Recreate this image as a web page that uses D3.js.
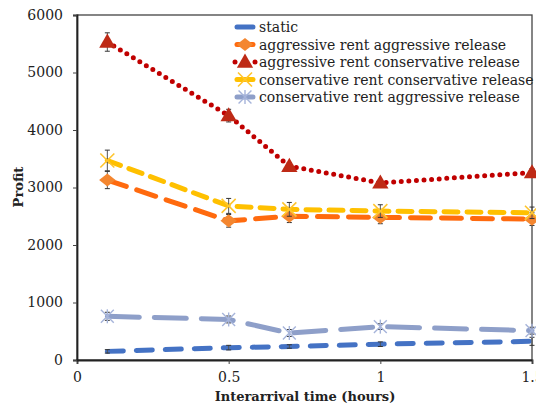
<!DOCTYPE html>
<html>
<head>
<meta charset="utf-8">
<script src="https://cdn.jsdelivr.net/npm/d3@7"></script>
<style>
  html, body { margin: 0; padding: 0; background: #fff; }
  svg { display: block; }
  text { font-family: "DejaVu Serif", "Liberation Serif", serif; fill: #222; }
</style>
</head>
<body>
<svg id="chart" width="536" height="410"></svg>
<script>
// Interarrival times (hours)
const interarrival = [0.1, 0.5, 0.7, 1.0, 1.5];

const seriesNames = [
  "static",
  "aggressive rent aggressive release",
  "aggressive rent conservative release",
  "conservative rent conservative release",
  "conservative rent aggressive release"
];

// Mean profit per series
const staticProfit = [150, 215, 235, 275, 325];
const aggAggProfit = [3130, 2420, 2500, 2480, 2450];
const aggConsProfit = [5530, 4250, 3370, 3080, 3260];
const consConsProfit = [3470, 2680, 2620, 2590, 2560];
const consAggProfit = [760, 705, 470, 580, 510];

// Error bar half-widths
const staticErr = [30, 40, 30, 40, 70];
const aggAggErr = [150, 110, 110, 110, 110];
const aggConsErr = [160, 110, 60, 50, 70];
const consConsErr = [180, 130, 120, 110, 100];
const consAggErr = [70, 60, 60, 50, 60];

const xTicks = [0, 0.5, 1, 1.5];
const yTicks = [0, 1000, 2000, 3000, 4000, 5000, 6000];

const styles = [
  { color: "#4472C4", width: 5, dash: "16,13", cap: "round", marker: "none" },
  { color: "#FF6A0E", width: 5, dash: "20,11", cap: "round", marker: "diamond", mcolor: "#F4862F" },
  { color: "#C00000", width: 5, dash: "0,7.6", cap: "round", marker: "triangle", mcolor: "#BE2A16" },
  { color: "#FFC000", width: 5, dash: "14,9", cap: "round", marker: "x", mcolor: "#FFC52E" },
  { color: "#8E9FC9", width: 5, dash: "32,15", cap: "round", marker: "asterisk", mcolor: "#A6B4DA" }
];

const values = [staticProfit, aggAggProfit, aggConsProfit, consConsProfit, consAggProfit];
const errors = [staticErr, aggAggErr, aggConsErr, consConsErr, consAggErr];

const svg = d3.select("#chart");
const m = { left: 77, top: 15, right: 532, bottom: 360 };

const x = d3.scaleLinear().domain([0, 1.5]).range([m.left, m.right]);
const y = d3.scaleLinear().domain([0, 6000]).range([m.bottom, m.top]);

// frame
svg.append("rect")
  .attr("x", m.left).attr("y", m.top)
  .attr("width", m.right - m.left).attr("height", m.bottom - m.top)
  .attr("fill", "none").attr("stroke", "#444").attr("stroke-width", 1.3);

// axes
const xAxis = svg.append("g")
  .attr("transform", `translate(0,${m.bottom})`)
  .call(d3.axisBottom(x).tickValues(xTicks).tickFormat(d3.format("")).tickSize(4).tickPadding(8));
const yAxis = svg.append("g")
  .attr("transform", `translate(${m.left},0)`)
  .call(d3.axisLeft(y).tickValues(yTicks).tickFormat(d3.format("")).tickSize(4).tickPadding(10));
[xAxis, yAxis].forEach(g => {
  g.select(".domain").attr("stroke", "#222").attr("stroke-width", 1.8);
  g.selectAll(".tick line").attr("stroke", "#444");
  g.selectAll("text").style("font-family", "\"DejaVu Serif\", serif").style("font-size", "14px").attr("fill", "#222");
});

// axis titles
svg.append("text")
  .attr("x", 305).attr("y", 401)
  .attr("text-anchor", "middle")
  .style("font-size", "13px").style("font-weight", "bold")
  .text("Interarrival time (hours)");
svg.append("text")
  .attr("transform", "translate(23,187) rotate(-90)")
  .attr("text-anchor", "middle")
  .style("font-size", "13px").style("font-weight", "bold")
  .text("Profit");

function drawMarker(g, type, cx, cy, color) {
  if (type === "diamond") {
    g.append("path").attr("d", d3.symbol(d3.symbolDiamond2, 110)())
      .attr("transform", `translate(${cx},${cy}) scale(1.25,1)`).attr("fill", color);
  } else if (type === "triangle") {
    g.append("path").attr("d", d3.symbol(d3.symbolTriangle, 115)())
      .attr("transform", `translate(${cx},${cy + 1})`).attr("fill", color);
  } else if (type === "x") {
    g.append("path").attr("d", d3.symbol(d3.symbolTimes, 130)())
      .attr("transform", `translate(${cx},${cy})`).attr("fill", "none")
      .attr("stroke", color).attr("stroke-width", 1.6);
  } else if (type === "asterisk") {
    g.append("path").attr("d", d3.symbol(d3.symbolTimes, 110)())
      .attr("transform", `translate(${cx},${cy})`).attr("fill", "none")
      .attr("stroke", color).attr("stroke-width", 1.4);
    g.append("line").attr("x1", cx).attr("x2", cx).attr("y1", cy - 7).attr("y2", cy + 7)
      .attr("stroke", color).attr("stroke-width", 1.4);
  }
}

const line = d3.line().x(d => x(d[0])).y(d => y(d[1]));

values.forEach((vals, i) => {
  const s = styles[i];
  const g = svg.append("g");
  const pts = interarrival.map((t, j) => [t, vals[j]]);
  g.append("path").datum(pts).attr("d", line)
    .attr("fill", "none").attr("stroke", s.color).attr("stroke-width", s.width)
    .attr("stroke-dasharray", s.dash).attr("stroke-linecap", s.cap);
  // error bars
  pts.forEach((p, j) => {
    const e = errors[i][j];
    const cx = x(p[0]);
    const y1 = y(p[1] - e), y2 = y(p[1] + e);
    g.append("line").attr("x1", cx).attr("x2", cx).attr("y1", y1).attr("y2", y2)
      .attr("stroke", "#555").attr("stroke-width", 1);
    [y1, y2].forEach(yy => g.append("line").attr("x1", cx - 2.5).attr("x2", cx + 2.5)
      .attr("y1", yy).attr("y2", yy).attr("stroke", "#333").attr("stroke-width", 1));
  });
  if (s.marker !== "none") {
    pts.forEach(p => drawMarker(g, s.marker, x(p[0]), y(p[1]), s.mcolor));
  }
});

// legend
const lg = svg.append("g");
seriesNames.forEach((name, i) => {
  const s = styles[i];
  const ly = 27 + i * 17.5;
  const row = lg.append("g");
  if (i === 2) {
    [235, 255].forEach(dx => row.append("circle").attr("cx", dx).attr("cy", ly).attr("r", 2.5).attr("fill", s.color));
  } else {
    row.append("line").attr("x1", 237).attr("x2", 253).attr("y1", ly).attr("y2", ly)
      .attr("stroke", s.color).attr("stroke-width", s.width).attr("stroke-linecap", "round");
  }
  if (s.marker !== "none") drawMarker(row, s.marker, 245, ly, s.mcolor);
  row.append("text").attr("x", 259).attr("y", ly + 5)
    .style("font-size", "14px").text(name);
});
</script>
</body>
</html>
